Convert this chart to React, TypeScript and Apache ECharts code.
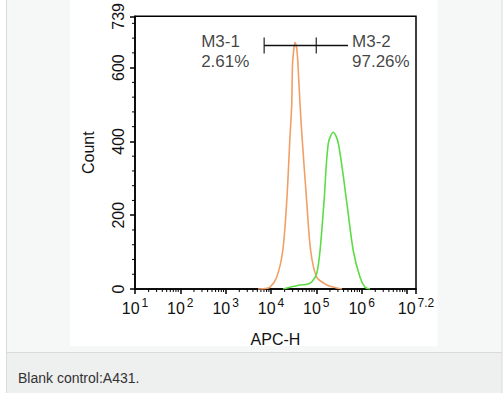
import React, { useEffect, useRef } from "react";
import * as echarts from "echarts";

// log10(APC-H) positions and counts
const orangeLog = [3.714, 3.868, 3.979, 4.127, 4.259, 4.347, 4.42, 4.458, 4.475, 4.508, 4.53, 4.574, 4.608, 4.641, 4.685, 4.789, 4.877, 5.009, 5.23, 5.413, 5.568];
const orangeCount = [0, 1, 5, 32, 103, 236, 413, 501, 607, 654, 668, 646, 580, 501, 413, 236, 103, 32, 11, 4, 0];

const greenLog = [4.266, 4.42, 4.641, 4.773, 4.899, 5.009, 5.082, 5.17, 5.265, 5.376, 5.486, 5.671, 5.817, 5.965, 6.075, 6.185];
const greenCount = [0, 5, 11, 12, 19, 42, 103, 236, 395, 425, 395, 236, 103, 32, 5, 0];

// gate markers (log10 positions) and their level
const gateEdges = [3.85, 5.0, 5.7];
const gateLevel = 660;
const gateNames = ["M3-1", "M3-2"];
const gatePercents = ["2.61%", "97.26%"];

const xMin = 1;
const xMax = 7.2;
const yMax = 739;
const yMajor = 200;
const yMinorStep = 40;
const caption = "Blank control:A431.";

const FONT = "'Liberation Sans', Arial, sans-serif";

export default function App() {
  const ref = useRef<HTMLDivElement>(null);
  useEffect(() => {
    if (!ref.current) return;
    const chart = echarts.init(ref.current, undefined, { renderer: "svg" });

    const xMinor: number[] = [];
    for (let d = 1; d < 8; d++) {
      for (let k = 2; k <= 9; k++) {
        const v = d + Math.log10(k);
        if (v < xMax) xMinor.push(v);
      }
    }
    const yMinor: number[] = [];
    for (let v = yMinorStep; v < yMax; v += yMinorStep) if (v % yMajor !== 0) yMinor.push(v);

    const option: any = {
      animation: false,
      backgroundColor: "#ffffff",
      textStyle: { fontFamily: FONT, color: "#111" },
      graphic: [
        { type: "rect", z: -10, shape: { x: 6.5, y: -10, width: 495.5, height: 362.5 }, style: { fill: "#f6f7f7", stroke: "#dadada", lineWidth: 1 } },
        { type: "rect", z: -10, shape: { x: 6.5, y: 352.5, width: 495.5, height: 50 }, style: { fill: "#eeefef", stroke: "#dadada", lineWidth: 1 } },
        { type: "rect", z: -9, shape: { x: 70, y: 0, width: 367.5, height: 346 }, style: { fill: "#ffffff" } },
        { type: "text", z: 5, x: 18, y: 378, style: { text: caption, font: `14px ${FONT}`, fill: "#333", verticalAlign: "middle" } },
      ],
      grid: { left: 135, top: 11, right: 87, bottom: 104, show: true, borderColor: "#000", borderWidth: 1.5, backgroundColor: "transparent" },
      xAxis: {
        type: "value",
        min: xMin,
        max: xMax,
        interval: 1,
        name: "APC-H",
        nameLocation: "middle",
        nameGap: 42,
        nameTextStyle: { fontSize: 16, color: "#111", fontFamily: FONT },
        axisLine: { lineStyle: { color: "#000", width: 1.5 } },
        axisTick: { inside: false, length: 5, lineStyle: { color: "#000", width: 1.5 } },
        splitLine: { show: false },
        axisLabel: {
          margin: 8,
          color: "#111",
          formatter: (v: number) => {
            if (Math.abs(v - 7) < 1e-9) return "";
            const e = Math.abs(v - Math.round(v)) < 1e-9 ? String(Math.round(v)) : v.toFixed(1);
            return `{b|10}{s|${e}}`;
          },
          rich: {
            b: { fontSize: 16, lineHeight: 19, verticalAlign: "bottom", fontFamily: FONT, color: "#111" },
            s: { fontSize: 12, lineHeight: 19, verticalAlign: "top", padding: [0, 0, 0, 2], fontFamily: FONT, color: "#111" },
          },
        },
      },
      yAxis: {
        type: "value",
        min: 0,
        max: yMax,
        interval: yMajor,
        name: "Count",
        nameLocation: "middle",
        nameGap: 39,
        nameRotate: 90,
        nameTextStyle: { fontSize: 16, color: "#111", fontFamily: FONT },
        axisLine: { show: true, lineStyle: { color: "#000", width: 1.5 } },
        axisTick: { show: true, length: 5, lineStyle: { color: "#000", width: 1.5 } },
        splitLine: { show: false },
        axisLabel: { rotate: 90, margin: 9, fontSize: 16, color: "#111", fontFamily: FONT },
      },
      series: [
        {
          type: "custom",
          silent: true,
          clip: false,
          data: xMinor.map((v) => [v, 0]),
          renderItem: (params: any, api: any) => {
            const p = api.coord([api.value(0), 0]);
            return { type: "line", shape: { x1: p[0], y1: p[1], x2: p[0], y2: p[1] + 3 }, style: { stroke: "#000", lineWidth: 1 } };
          },
        },
        {
          type: "custom",
          silent: true,
          clip: false,
          data: yMinor.map((v) => [xMin, v]),
          renderItem: (params: any, api: any) => {
            const p = api.coord([xMin, api.value(1)]);
            return { type: "line", shape: { x1: p[0], y1: p[1], x2: p[0] - 3, y2: p[1] }, style: { stroke: "#000", lineWidth: 1 } };
          },
        },
        {
          type: "line",
          name: "control",
          data: orangeLog.map((x, i) => [x, orangeCount[i]]),
          showSymbol: false,
          smooth: 0.3,
          lineStyle: { color: "#f0a066", width: 1.6 },
          itemStyle: { color: "#f0a066" },
        },
        {
          type: "line",
          name: "sample",
          data: greenLog.map((x, i) => [x, greenCount[i]]),
          showSymbol: false,
          smooth: 0.3,
          lineStyle: { color: "#5ddc45", width: 1.6 },
          itemStyle: { color: "#5ddc45" },
        },
        {
          type: "line",
          name: "gate",
          data: gateEdges.map((x) => [x, gateLevel]),
          showSymbol: false,
          lineStyle: { color: "#111", width: 1.3 },
          z: 4,
        },
        {
          type: "scatter",
          name: "gateTicks",
          data: gateEdges.slice(0, 2).map((x) => [x, gateLevel]),
          symbol: "rect",
          symbolSize: [1.4, 16],
          itemStyle: { color: "#111" },
          z: 4,
        },
        {
          type: "scatter",
          name: "gateLabels",
          symbolSize: 0,
          z: 5,
          data: [
            {
              value: [gateEdges[0], gateLevel],
              name: `${gateNames[0]}\n${gatePercents[0]}`,
              label: { position: [-63, -14] },
            },
            {
              value: [gateEdges[2], gateLevel],
              name: `${gateNames[1]}\n${gatePercents[1]}`,
              label: { position: [4, -14] },
            },
          ],
          label: {
            show: true,
            formatter: (p: any) => p.name,
            align: "left",
            verticalAlign: "top",
            fontSize: 17,
            lineHeight: 20,
            color: "#111",
            fontFamily: FONT,
          },
        },
      ],
    };
    chart.setOption(option);
    return () => chart.dispose();
  }, []);

  return (
    <div style={{ position: "fixed", left: 0, top: 0, width: 503, height: 393 }}>
      <div ref={ref} style={{ width: 503, height: 393 }} />
    </div>
  );
}
